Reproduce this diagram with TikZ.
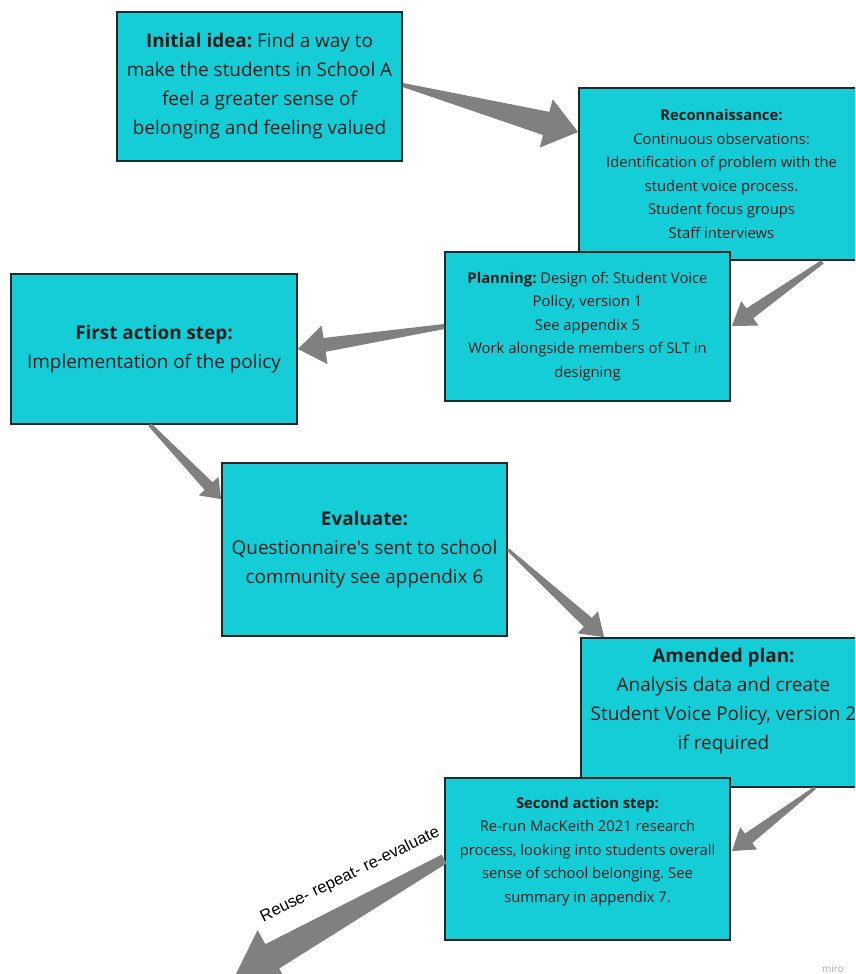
\documentclass[tikz,border=0pt]{standalone}
\usepackage{fontspec}
\setmainfont{Open Sans}[Ligatures=TeXOff]
\newfontfamily\labelfont{Liberation Sans}
\usetikzlibrary{calc}
\frenchspacing

\definecolor{boxcyan}{HTML}{14CDD6}
\definecolor{boxline}{HTML}{262626}
\definecolor{arrowgrey}{HTML}{808080}
\definecolor{inktext}{HTML}{1E1E1E}
\definecolor{markgrey}{HTML}{A8AAB4}

% Tapered block arrow: tail, tip, tail half-width, shaft half-width at head,
% head length, head half-width (all in pt)
\newcommand{\taperarrow}[6]{%
  \coordinate (hb) at ($(#2)!#5pt!(#1)$);
  \fill[arrowgrey]
    ($(#1)!#3pt!90:(#2)$) -- ($(hb)!#4pt!-90:(#1)$) -- ($(hb)!#6pt!-90:(#1)$)
    -- (#2)
    -- ($(hb)!#6pt!90:(#1)$) -- ($(hb)!#4pt!90:(#1)$) -- ($(#1)!#3pt!-90:(#2)$)
    -- cycle;
}

\tikzset{
  box/.style={draw=boxline, line width=1.8pt, fill=boxcyan, rectangle,
    inner sep=0pt, text=inktext, align=center},
  bigtext/.style={font=\fontsize{18.9}{29}\selectfont, text=inktext, align=center},
  smalltext/.style={font=\fontsize{14.8}{23.5}\selectfont, text=inktext, align=center},
}

\begin{document}
\begin{tikzpicture}[x=1pt, y=-1pt]
\useasboundingbox (0,0) rectangle (855,974);
\clip (0,0) rectangle (855,974);
\fill[white] (0,0) rectangle (855,974);

% Boxes (later ones overlap earlier ones)
\node[box, bigtext, minimum width=285pt, minimum height=149pt] (init) at (259.5,86.5)
  {\textbf{Initial idea:} Find a way to\\make the students in School A\\feel a greater sense of\\belonging and feeling valued};

\node[box, smalltext, minimum width=285pt, minimum height=172pt] (recon) at (721.5,174)
  {\textbf{Reconnaissance:}\\Continuous observations:\\Identification of problem with the\\student voice process.\\Student focus groups\\Staff interviews};

\node[box, smalltext, minimum width=285pt, minimum height=149pt] (plan) at (587.5,326.5)
  {\textbf{Planning:} Design of: Student Voice\\Policy, version 1\\See appendix 5\\Work alongside members of SLT in\\designing};

\node[box, bigtext, minimum width=286pt, minimum height=150pt] (first) at (154,349)
  {\textbf{First action step:}\\Implementation of the policy};

\node[box, bigtext, minimum width=285pt, minimum height=173pt] (eval) at (364.5,549.5)
  {\textbf{Evaluate:}\\Questionnaire's sent to school\\community see appendix 6};

\node[box, minimum width=285pt, minimum height=149pt] (amend) at (723.5,712.5) {};
\node[bigtext] (amendtext) at ($(amend.center)+(0,-11)$)
  {\textbf{Amended plan:}\\Analysis data and create\\Student Voice Policy, version 2\\if required};

\node[box, minimum width=285pt, minimum height=162pt] (second) at (587.5,859) {};
\node[smalltext] (secondtext) at ($(second.center)+(0,-7.5)$)
  {\textbf{Second action step:}\\Re-run MacKeith 2021 research\\process, looking into students overall\\sense of school belonging. See\\summary in appendix 7.};

% Connector end points
\coordinate (a1t) at ($(init.east)+(0,-1.5)$);
\coordinate (a1p) at ($(recon.west)+(0,-42)$);
\coordinate (a2t) at ($(recon.south)+(101,1)$);
\coordinate (a2p) at ($(plan.east)+(1,-0.5)$);
\coordinate (a3t) at (plan.west);
\coordinate (a3p) at (first.east);
\coordinate (a4t) at ($(first.south)+(-4,0)$);
\coordinate (a4p) at ($(eval.north west)+(0,37)$);
\coordinate (a5t) at (eval.east);
\coordinate (a5p) at ($(amend.north west)+(24,0)$);
\coordinate (a6t) at ($(amend.south)+(91.5,0)$);
\coordinate (a6p) at ($(second.east)+(1,-8)$);
\coordinate (a7t) at (second.west);
\coordinate (a7p) at (234,978);

% Connectors
\taperarrow{a1t}{a1p}{2}{12}{33}{25}
\taperarrow{a2t}{a2p}{2}{6}{22}{15}
\taperarrow{a3t}{a3p}{2.5}{7}{27}{19.5}
\taperarrow{a4t}{a4p}{2}{5.5}{18}{13.5}
\taperarrow{a5t}{a5p}{1.5}{6}{22}{15}
\taperarrow{a6t}{a6p}{1.5}{6}{21}{14}
\taperarrow{a7t}{a7p}{5}{14}{44}{30}

% Loop-back label
\node[font=\labelfont\fontsize{16.5}{19}\selectfont, text=black, rotate=26,
  inner sep=0pt] (looplabel) at ($(a7t)+(-94,16)$) {Reuse- repeat- re-evaluate};

% Board mark
\node[font=\fontsize{10}{12}\selectfont, text=markgrey, inner sep=0pt] (mark) at (833,969) {miro};
\end{tikzpicture}
\end{document}
